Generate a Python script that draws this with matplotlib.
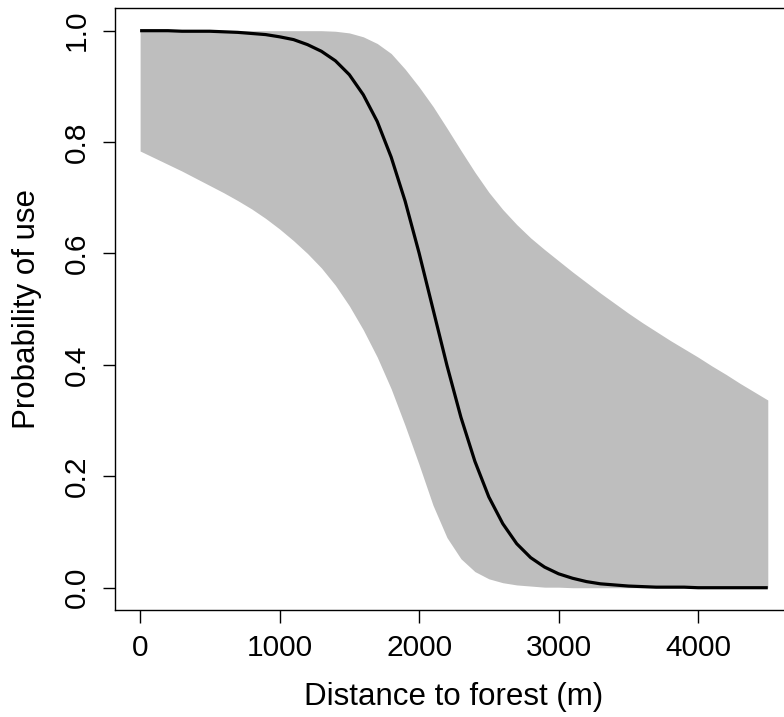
import numpy as np
import matplotlib
matplotlib.use("Agg")
import matplotlib.pyplot as plt

# distance to forest (m), fitted probability of use and its confidence band
distance = np.arange(0, 4501, 100)

prob_fit = [
    1.000, 1.000, 1.000, 0.999, 0.999, 0.999, 0.998, 0.997, 0.995, 0.993,
    0.989, 0.984, 0.975, 0.963, 0.946, 0.921, 0.885, 0.837, 0.773, 0.694,
    0.601, 0.500, 0.399, 0.306, 0.227, 0.163, 0.115, 0.079, 0.054, 0.037,
    0.025, 0.017, 0.011, 0.007, 0.005, 0.003, 0.002, 0.001, 0.001, 0.001,
    0.000, 0.000, 0.000, 0.000, 0.000, 0.000,
]

prob_lower = [
    0.784, 0.772, 0.760, 0.748, 0.735, 0.722, 0.709, 0.695, 0.680, 0.663,
    0.644, 0.623, 0.600, 0.574, 0.543, 0.506, 0.463, 0.414, 0.357, 0.291,
    0.221, 0.148, 0.090, 0.052, 0.029, 0.016, 0.009, 0.005, 0.003, 0.001,
    0.001, 0.000, 0.000, 0.000, 0.000, 0.000, 0.000, 0.000, 0.000, 0.000,
    0.000, 0.000, 0.000, 0.000, 0.000, 0.000,
]

prob_upper = [
    1.000, 1.000, 1.000, 1.000, 1.000, 1.000, 1.000, 1.000, 1.000, 1.000,
    1.000, 1.000, 1.000, 1.000, 0.999, 0.996, 0.989, 0.977, 0.959, 0.931,
    0.899, 0.864, 0.825, 0.785, 0.746, 0.710, 0.679, 0.652, 0.628, 0.607,
    0.587, 0.567, 0.548, 0.529, 0.511, 0.493, 0.476, 0.460, 0.444, 0.429,
    0.414, 0.398, 0.383, 0.367, 0.352, 0.337,
]

x_ticks = [0, 1000, 2000, 3000, 4000]
y_ticks = [0.0, 0.2, 0.4, 0.6, 0.8, 1.0]
y_tick_labels = ["0.0", "0.2", "0.4", "0.6", "0.8", "1.0"]

plt.rcParams["font.family"] = ["Liberation Sans", "DejaVu Sans"]
plt.rcParams["font.size"] = 21.5

fig = plt.figure(figsize=(7.84, 7.17), dpi=100)
# plot region runs a little past the right edge of the figure
ax = fig.add_axes([0.14668, 0.14923, 0.86467, 0.83905])

ax.fill_between(distance, prob_lower, prob_upper, color="#BEBEBE", linewidth=0)
ax.plot(distance, prob_fit, color="black", linewidth=2.3, solid_capstyle="butt")

# usual 4% padding around the data range
ax.set_xlim(-180, 4680)
ax.set_ylim(-0.04, 1.04)

ax.set_xticks(x_ticks)
ax.set_xticklabels([str(t) for t in x_ticks])
ax.set_yticks(y_ticks)
ax.set_yticklabels(y_tick_labels, rotation=90, va="center")

ax.tick_params(direction="out", length=9, width=1.0, color="black", pad=8.5)
for side in ax.spines.values():
    side.set_linewidth(1.0)
    side.set_color("black")

ax.set_xlabel("Distance to forest (m)", fontsize=22.5)
ax.xaxis.label.set_va("baseline")
ax.xaxis.set_label_coords(0.5, -0.1587)

ax.set_ylabel("Probability of use", fontsize=22.5)
ax.yaxis.label.set_va("baseline")
ax.yaxis.set_label_coords(-0.118, 0.5)

fig.savefig("out.png", dpi=100)
plt.close(fig)
